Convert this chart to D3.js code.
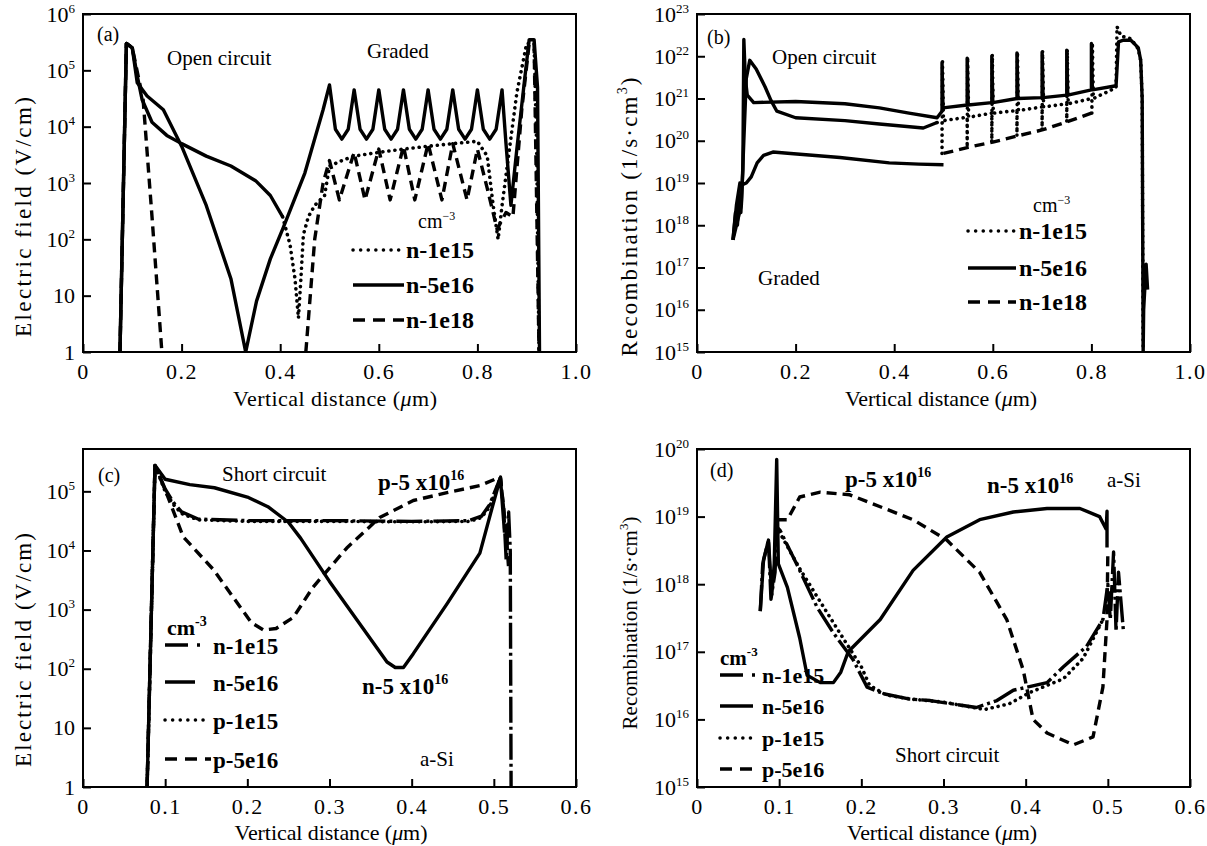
<!DOCTYPE html>
<html>
<head>
<meta charset="utf-8">
<script src="https://cdn.jsdelivr.net/npm/d3@7"></script>
<style>
body { margin: 0; background: #fff; }
svg { display: block; }
text { font-family: "Liberation Serif", "Times New Roman", serif; fill: #000; }
</style>
</head>
<body>
<svg id="chart"></svg>
<script>
// ---- data ----
// (a) electric field, open circuit, graded
var aN1e15EarlyX = [0.075, 0.088, 0.1, 0.11, 0.12, 0.14, 0.17, 0.2, 0.25, 0.3, 0.35, 0.38, 0.405];
var aN1e15EarlyY = [1, 3e5, 2.5e5, 8e4, 3e4, 1.2e4, 7e3, 5e3, 3e3, 2e3, 1.1e3, 600, 250];
var aN1e15X = [0.405, 0.42, 0.43, 0.437, 0.442, 0.447, 0.457, 0.47, 0.49, 0.5, 0.525, 0.55, 0.6, 0.65, 0.7, 0.75, 0.8, 0.82, 0.832, 0.842, 0.85, 0.865, 0.88, 0.9, 0.915, 0.92, 0.925];
var aN1e15Y = [250, 80, 20, 4, 20, 120, 250, 400, 600, 2e3, 2.5e3, 3e3, 3.5e3, 4e3, 4.5e3, 5e3, 5.5e3, 3e3, 400, 100, 400, 4e3, 4e4, 3e5, 3e5, 5e3, 1];
var aN5e16X = [0.075, 0.088, 0.1, 0.11, 0.13, 0.163, 0.2, 0.25, 0.3, 0.33, 0.352, 0.38, 0.406, 0.45, 0.487, 0.5,
  0.512, 0.525, 0.538, 0.55, 0.562, 0.575, 0.588, 0.6, 0.612, 0.625, 0.638, 0.65, 0.662, 0.675, 0.688, 0.7,
  0.712, 0.725, 0.738, 0.75, 0.762, 0.775, 0.788, 0.8, 0.812, 0.825, 0.838, 0.85,
  0.858, 0.868, 0.88, 0.895, 0.905, 0.915, 0.922, 0.926];
var aN5e16Y = [1, 3e5, 2.5e5, 6e4, 3.5e4, 2e4, 4.5e3, 400, 20, 1, 8, 45, 160, 1.5e3, 2e4, 5.5e4,
  9e3, 6e3, 9e3, 4.5e4, 9e3, 6e3, 9e3, 4.5e4, 9e3, 6e3, 9e3, 4.5e4, 9e3, 6e3, 9e3, 4.5e4,
  9e3, 6e3, 9e3, 4.5e4, 9e3, 6e3, 9e3, 4.5e4, 9e3, 6e3, 9e3, 4.5e4,
  5e3, 400, 4e3, 6e4, 3.5e5, 3.5e5, 5e4, 1];
var aN1e18X = [0.075, 0.088, 0.1, 0.122, 0.14, 0.16, null, 0.452, 0.47, 0.487, 0.5, 0.52, 0.55, 0.572, 0.6, 0.623, 0.65, 0.673, 0.7, 0.728, 0.75, 0.779, 0.8, 0.82, 0.84, 0.858, 0.872, 0.89, 0.905, 0.915, 0.925];
var aN1e18Y = [1, 3e5, 2.5e5, 3e4, 250, 1, null, 1, 100, 1e3, 2.5e3, 500, 3.5e3, 500, 4e3, 500, 4.5e3, 500, 5e3, 500, 5e3, 500, 4e3, 800, 150, 300, 250, 2e4, 3e5, 3e5, 1];

// (b) recombination, open circuit, graded
var bN1e15EarlyX = [0.073, 0.08, 0.09, 0.095, 0.1, 0.107, 0.12, 0.138, 0.15, 0.162, 0.2, 0.3, 0.37, 0.459, 0.487];
var bN1e15EarlyY = [4.5e17, 1e18, 3e18, 1e20, 3e21, 8e21, 5e21, 1.9e21, 9e20, 5e20, 3.5e20, 3e20, 2.5e20, 2e20, 2.7e20];
var bN1e15X = [0.487,
  0.497, 0.497, 0.498, 0.5, 0.548, 0.548, 0.549, 0.551, 0.598, 0.598, 0.599, 0.601, 0.649, 0.649, 0.65, 0.652,
  0.7, 0.7, 0.701, 0.703, 0.75, 0.75, 0.751, 0.753, 0.801, 0.801, 0.802, 0.804,
  0.85, 0.852, 0.86, 0.88, 0.895, 0.9, 0.903, 0.905];
var bN1e15Y = [2.7e20,
  2.8e20, 5e19, 7.5e21, 3e20, 3.6e20, 7e19, 9.5e21, 3.6e20, 4.5e20, 9.3e19, 1.1e22, 4.5e20, 5.2e20, 1.3e20, 1.25e22, 5.2e20,
  6.3e20, 1.8e20, 1.35e22, 6.3e20, 7.5e20, 2.8e20, 1.45e22, 7.5e20, 1e21, 4.5e20, 2.1e22, 1e21,
  1.8e21, 5e22, 3e22, 2.6e22, 1.5e22, 8e21, 1e21, 1e15];
var bN5e16X = [0.073, 0.078, 0.082, 0.086, 0.089, 0.093, 0.095, 0.098, 0.102, 0.115, 0.2, 0.3, 0.37, 0.43, 0.487,
  0.497, 0.497, 0.499, 0.548, 0.548, 0.55, 0.598, 0.598, 0.6, 0.649, 0.649, 0.651, 0.7, 0.7, 0.702,
  0.75, 0.75, 0.752, 0.8, 0.8, 0.802,
  0.85, 0.855, 0.865, 0.88, 0.895, 0.9, 0.903, 0.905, 0.906, 0.911, 0.914];
var bN5e16Y = [4.5e17, 2e18, 1e18, 5e18, 2e18, 2e19, 2.5e22, 3e21, 1.2e21, 8e20, 8.5e20, 7.5e20, 6e20, 4.5e20, 3.5e20,
  5e20, 7e21, 6e20, 7e20, 9e21, 7e20, 8e20, 1e22, 8e20, 1e21, 1.2e22, 1e21, 1.05e21, 1.25e22, 1.05e21,
  1.2e21, 1.4e22, 1.2e21, 1.6e21, 2e22, 1.6e21,
  2e21, 2.2e22, 2.4e22, 2.4e22, 1.6e22, 8e21, 1e21, 1e15, 1e16, 1.2e17, 3e16];
var bN1e18EarlyX = [0.073, 0.08, 0.087, 0.091, 0.1, 0.11, 0.122, 0.135, 0.154, 0.19, 0.29, 0.39, 0.45, 0.5];
var bN1e18EarlyY = [4.5e17, 3e18, 1e19, 9e18, 1e19, 1.4e19, 3e19, 4.5e19, 5.4e19, 5e19, 4e19, 3e19, 2.8e19, 2.7e19];
var bN1e18X = [0.5, 0.55, 0.6, 0.65, 0.7, 0.75, 0.8];
var bN1e18Y = [5e19, 7e19, 9.3e19, 1.3e20, 1.8e20, 2.8e20, 4.5e20];

// (c) electric field, short circuit, a-Si
var cN1e15X = [0.078, 0.0876, 0.1, 0.11, 0.12, 0.14, 0.2, 0.3, 0.4, 0.47, 0.485, 0.495, 0.508, 0.512, 0.515, 0.518, 0.52, 0.521];
var cN1e15Y = [1, 2.75e5, 1.1e5, 6.5e4, 4.5e4, 3.4e4, 3.2e4, 3.2e4, 3.1e4, 3.2e4, 3.8e4, 6e4, 1.7e5, 5e4, 7e3, 4.5e4, 1e4, 1];
var cN5e16X = [0.078, 0.0876, 0.1, 0.13, 0.16, 0.2, 0.225, 0.25, 0.265, 0.3, 0.34, 0.37, 0.38, 0.39, 0.402, 0.443, 0.483, 0.499, 0.508, 0.513];
var cN5e16Y = [1, 2.75e5, 1.6e5, 1.3e5, 1.15e5, 8e4, 5.5e4, 3e4, 1.6e4, 3e3, 500, 130, 105, 105, 180, 1.25e3, 9e3, 6e4, 1.7e5, 2e4];
var cP1e15X = [0.078, 0.0876, 0.1, 0.11, 0.12, 0.14, 0.2, 0.3, 0.4, 0.47, 0.485, 0.495, 0.508];
var cP1e15Y = [1, 2.75e5, 1e5, 6e4, 4.2e4, 3.3e4, 3.1e4, 3.1e4, 3.05e4, 3.1e4, 3.6e4, 5.5e4, 1.7e5];
var cP5e16X = [0.078, 0.0876, 0.102, 0.122, 0.159, 0.183, 0.205, 0.22, 0.235, 0.256, 0.28, 0.321, 0.361, 0.402, 0.443, 0.483, 0.508, 0.515, 0.518];
var cP5e16Y = [1, 2.75e5, 9e4, 1.7e4, 4.7e3, 1.6e3, 600, 450, 480, 740, 2.4e3, 1.1e4, 3.6e4, 7e4, 9.5e4, 1.25e5, 1.75e5, 2e4, 5e3];

// (d) recombination, short circuit, a-Si
var dN1e15X = [0.077, 0.08, 0.087, 0.09, 0.095, 0.097, 0.101, 0.125, 0.146, 0.166, 0.19, 0.207, 0.227, 0.259, 0.284, 0.34, 0.365, 0.385, 0.426, 0.446, 0.474, 0.494, 0.5, 0.503, 0.507, 0.51, 0.513, 0.519];
var dN1e15Y = [4e17, 2e18, 4.5e18, 6e17, 1.5e18, 7e18, 6.3e18, 1.6e18, 4.6e17, 1.9e17, 7.6e16, 3e16, 2.4e16, 2e16, 1.9e16, 1.5e16, 1.9e16, 2.7e16, 3.5e16, 6e16, 1.2e17, 3e17, 1e18, 3e17, 3e18, 2e17, 1.5e18, 2e17];
var dN5e16X = [0.077, 0.081, 0.087, 0.091, 0.094, 0.097, 0.099, 0.11, 0.125, 0.134, 0.15, 0.166, 0.175, 0.184, 0.223, 0.263, 0.304, 0.344, 0.385, 0.426, 0.466, 0.49, 0.498, 0.499, 0.499];
var dN5e16Y = [4e17, 2.3e18, 4.5e18, 7e17, 2e18, 7e19, 2e18, 9e17, 1.6e17, 4.5e16, 3.5e16, 3.5e16, 5e16, 1e17, 3e17, 1.6e18, 5e18, 9e18, 1.17e19, 1.32e19, 1.32e19, 1e19, 6.5e18, 1.2e19, 3.5e18];
var dP1e15X = [0.1, 0.125, 0.15, 0.175, 0.2, 0.21, 0.23, 0.26, 0.3, 0.35, 0.38, 0.405, 0.446, 0.47, 0.494];
var dP1e15Y = [6e18, 1.7e18, 5.5e17, 1.8e17, 6e16, 3.2e16, 2.3e16, 2e16, 1.8e16, 1.4e16, 1.7e16, 2.5e16, 4e16, 8e16, 3e17];
var dP5e16X = [0.097, 0.11, 0.125, 0.15, 0.186, 0.223, 0.263, 0.304, 0.344, 0.377, 0.397, 0.409, 0.426, 0.458, 0.482, 0.494, 0.499, 0.5];
var dP5e16Y = [9e18, 9e18, 1.95e19, 2.3e19, 2.1e19, 1.4e19, 9e18, 4.5e18, 1.5e18, 3e17, 5.4e16, 1e16, 6.3e15, 4.2e15, 5.5e15, 3e16, 3e17, 3e18];

// ticks and legend labels
var xTicksTop = [0, 0.2, 0.4, 0.6, 0.8, 1.0];
var xTicksBottom = [0, 0.1, 0.2, 0.3, 0.4, 0.5, 0.6];
var aYTicks = [1, 10, 1e2, 1e3, 1e4, 1e5, 1e6];
var bYTicks = [1e15, 1e16, 1e17, 1e18, 1e19, 1e20, 1e21, 1e22, 1e23];
var cYTicks = [1, 10, 1e2, 1e3, 1e4, 1e5];
var dYTicks = [1e15, 1e16, 1e17, 1e18, 1e19, 1e20];
var topLegend = ["n-1e15", "n-5e16", "n-1e18"];
var bottomLegend = ["n-1e15", "n-5e16", "p-1e15", "p-5e16"];

// ---- drawing ----
var W = 1207, H = 846;
var svg = d3.select("#chart").attr("width", W).attr("height", H);

var dash = { solid: null, dotted: "0.1,6", dashed: "10,6", dashdot: "26,4,3,4" };
var legendDash = { solid: null, dotted: "0.1,7.5", dashed: "12,8", dashdot: "23,9,3,60" };

function zip(xs, ys) {
  return xs.map(function(x, i) { return [x, ys[i]]; });
}

function addText(parent, x, y, parts, opt) {
  var t = parent.append("text").attr("x", x).attr("y", y)
    .attr("font-size", opt.size + "px")
    .attr("font-weight", opt.bold ? "bold" : "normal");
  if (opt.anchor) t.attr("text-anchor", opt.anchor);
  if (opt.len) t.attr("textLength", opt.len).attr("lengthAdjust", "spacing");
  var shift = 0;
  parts.forEach(function(p) {
    var s = t.append("tspan").text(p.t);
    var want = p.sup ? -Math.round(opt.size * 0.42) : 0;
    if (want !== shift) { s.attr("dy", want - shift); shift = want; }
    if (p.sup) s.attr("font-size", Math.round(opt.size * 0.62) + "px");
    if (p.it) s.attr("font-style", "italic");
  });
  return t;
}

var xTitle = [{ t: "Vertical distance (" }, { t: "\u03bc", it: true }, { t: "m)" }];
var fieldTitle = [{ t: "Electric field (V/cm)" }];
var recTitle = [{ t: "Recombination (1/s\u00b7cm" }, { t: "3", sup: true }, { t: ")" }];

var panels = [
  { id: "a", left: 83, top: 14, right: 576, bottom: 352, xMax: 1.0, xTicks: xTicksTop,
    yDomain: [1, 1e6], yTicks: aYTicks,
    yTitle: fieldTitle, yTitleX: 31, yTitleY: 217, yTitleLen: 240, yTitleSize: 23,
    xTitleX: 335, xTitleY: 406, xTitleLen: 204,
    series: [
      { x: aN1e15EarlyX, y: aN1e15EarlyY, style: "solid" },
      { x: aN1e15X, y: aN1e15Y, style: "dotted" },
      { x: aN5e16X, y: aN5e16Y, style: "solid" },
      { x: aN1e18X, y: aN1e18Y, style: "dashed" }
    ],
    notes: [
      { x: 97, y: 41, parts: [{ t: "(a)" }], size: 20 },
      { x: 167, y: 65, parts: [{ t: "Open circuit" }], size: 21 },
      { x: 367, y: 58, parts: [{ t: "Graded" }], size: 21 },
      { x: 418, y: 228, parts: [{ t: "cm" }, { t: "\u22123", sup: true }], size: 20 }
    ],
    legend: { labels: topLegend, styles: ["dotted", "solid", "dashed"], base: [258, 293, 328],
      x1: 353, x2: [404, 404, 404], tx: 406, size: 24, off: 8 } },
  { id: "b", left: 697, top: 14, right: 1190, bottom: 352, xMax: 1.0, xTicks: xTicksTop,
    yDomain: [1e15, 1e23], yTicks: bYTicks,
    yTitle: recTitle, yTitleX: 637, yTitleY: 217, yTitleLen: 279, yTitleSize: 23,
    xTitleX: 941, xTitleY: 406, xTitleLen: 192,
    series: [
      { x: bN1e18EarlyX, y: bN1e18EarlyY, style: "solid" },
      { x: bN1e18X, y: bN1e18Y, style: "dashed" },
      { x: bN1e15EarlyX, y: bN1e15EarlyY, style: "solid" },
      { x: bN1e15X, y: bN1e15Y, style: "dotted" },
      { x: bN5e16X, y: bN5e16Y, style: "solid" }
    ],
    notes: [
      { x: 707, y: 44, parts: [{ t: "(b)" }], size: 20 },
      { x: 772, y: 64, parts: [{ t: "Open circuit" }], size: 21 },
      { x: 758, y: 285, parts: [{ t: "Graded" }], size: 21 },
      { x: 1033, y: 212, parts: [{ t: "cm" }, { t: "\u22123", sup: true }], size: 20 }
    ],
    legend: { labels: topLegend, styles: ["dotted", "solid", "dashed"], base: [239, 276, 310],
      x1: 968, x2: [1016, 1016, 1016], tx: 1019, size: 24, off: 8 } },
  { id: "c", left: 83, top: 449, right: 576, bottom: 787, xMax: 0.6, xTicks: xTicksBottom,
    yDomain: [1, 5.2e5], yTicks: cYTicks,
    yTitle: fieldTitle, yTitleX: 31, yTitleY: 650, yTitleLen: 234, yTitleSize: 23,
    xTitleX: 331, xTitleY: 840, xTitleLen: 193,
    series: [
      { x: cP1e15X, y: cP1e15Y, style: "dotted" },
      { x: cN1e15X, y: cN1e15Y, style: "dashdot" },
      { x: cP5e16X, y: cP5e16Y, style: "dashed" },
      { x: cN5e16X, y: cN5e16Y, style: "solid" }
    ],
    notes: [
      { x: 98, y: 482, parts: [{ t: "(c)" }], size: 20 },
      { x: 222, y: 481, parts: [{ t: "Short circuit" }], size: 21 },
      { x: 378, y: 490, parts: [{ t: "p-5 x10" }, { t: "16", sup: true }], size: 23, bold: true },
      { x: 362, y: 694, parts: [{ t: "n-5 x10" }, { t: "16", sup: true }], size: 23, bold: true },
      { x: 420, y: 766, parts: [{ t: "a-Si" }], size: 21 },
      { x: 167, y: 635, parts: [{ t: "cm" }, { t: "-3", sup: true }], size: 22, bold: true }
    ],
    legend: { labels: bottomLegend, styles: ["dashdot", "solid", "dotted", "dashed"], base: [654, 691, 729, 768],
      x1: 165, x2: [203, 195, 210, 211], tx: 213, size: 23, off: 9 } },
  { id: "d", left: 697, top: 449, right: 1190, bottom: 787, xMax: 0.6, xTicks: xTicksBottom,
    yDomain: [1e15, 1e20], yTicks: dYTicks,
    yTitle: recTitle, yTitleX: 637, yTitleY: 623, yTitleLen: 213, yTitleSize: 21,
    xTitleX: 942, xTitleY: 840, xTitleLen: 190,
    series: [
      { x: dP1e15X, y: dP1e15Y, style: "dotted" },
      { x: dN1e15X, y: dN1e15Y, style: "dashdot" },
      { x: dP5e16X, y: dP5e16Y, style: "dashed" },
      { x: dN5e16X, y: dN5e16Y, style: "solid" }
    ],
    notes: [
      { x: 710, y: 477, parts: [{ t: "(d)" }], size: 20 },
      { x: 845, y: 487, parts: [{ t: "p-5 x10" }, { t: "16", sup: true }], size: 23, bold: true },
      { x: 987, y: 493, parts: [{ t: "n-5 x10" }, { t: "16", sup: true }], size: 23, bold: true },
      { x: 1107, y: 487, parts: [{ t: "a-Si" }], size: 21 },
      { x: 895, y: 762, parts: [{ t: "Short circuit" }], size: 21 },
      { x: 720, y: 665, parts: [{ t: "cm" }, { t: "-3", sup: true }], size: 21, bold: true }
    ],
    legend: { labels: bottomLegend, styles: ["dashdot", "solid", "dotted", "dashed"], base: [683, 714, 746, 777],
      x1: 720, x2: [757, 753, 758, 758], tx: 762, size: 22, off: 8 } }
];

panels.forEach(function(p) {
  var x = d3.scaleLinear().domain([0, p.xMax]).range([p.left, p.right]);
  var y = d3.scaleLog().domain(p.yDomain).range([p.bottom, p.top]);
  var g = svg.append("g").attr("class", "panel-" + p.id);

  // x axis, ticks pointing inward
  var xa = g.append("g")
    .attr("transform", "translate(0," + p.bottom + ")")
    .call(d3.axisBottom(x).tickValues(p.xTicks).tickSize(-8).tickPadding(11)
      .tickFormat(function(d) { return d === 0 ? "0" : d3.format(".1f")(d); }));
  xa.select(".domain").remove();
  xa.selectAll(".tick line").attr("stroke", "#000").attr("stroke-width", 2);
  xa.selectAll(".tick text").attr("font-size", "22px").attr("letter-spacing", "1.5px")
    .attr("font-family", "Liberation Serif, Times New Roman, serif");

  // y axis, log decades
  var ya = g.append("g")
    .attr("transform", "translate(" + p.left + ",0)")
    .call(d3.axisLeft(y).tickValues(p.yTicks).tickSize(-8).tickPadding(8));
  ya.select(".domain").remove();
  ya.selectAll(".tick line").attr("stroke", "#000").attr("stroke-width", 2);
  ya.selectAll(".tick text").attr("font-size", "22px")
    .attr("font-family", "Liberation Serif, Times New Roman, serif")
    .each(function(d) {
      var e = Math.round(Math.log10(d));
      var t = d3.select(this).text(null);
      if (e === 0) t.text("1");
      else if (e === 1) t.text("10");
      else {
        t.append("tspan").text("10");
        t.append("tspan").attr("dy", -9).attr("font-size", "13px").text(e);
      }
    });

  // clip for the curves
  svg.append("clipPath").attr("id", "clip-" + p.id)
    .append("rect").attr("x", p.left).attr("y", p.top)
    .attr("width", p.right - p.left).attr("height", p.bottom - p.top);

  var line = d3.line()
    .defined(function(d) { return d[0] != null && d[1] != null; })
    .x(function(d) { return x(d[0]); })
    .y(function(d) { return y(d[1]); });

  var curves = g.append("g").attr("clip-path", "url(#clip-" + p.id + ")");
  p.series.forEach(function(s) {
    curves.append("path")
      .datum(zip(s.x, s.y))
      .attr("d", line)
      .attr("fill", "none")
      .attr("stroke", "#000")
      .attr("stroke-width", s.style === "dotted" ? 3.6 : 3.4)
      .attr("stroke-linejoin", "round")
      .attr("stroke-linecap", s.style === "dotted" ? "round" : "butt")
      .attr("stroke-dasharray", dash[s.style]);
  });

  // frame
  g.append("rect")
    .attr("x", p.left).attr("y", p.top)
    .attr("width", p.right - p.left).attr("height", p.bottom - p.top)
    .attr("fill", "none").attr("stroke", "#000").attr("stroke-width", 2);

  // axis titles
  addText(g, p.xTitleX, p.xTitleY, xTitle, { size: 22, anchor: "middle", len: p.xTitleLen });
  var yt = g.append("g").attr("transform", "translate(" + p.yTitleX + "," + p.yTitleY + ") rotate(-90)");
  addText(yt, 0, 0, p.yTitle, { size: p.yTitleSize, anchor: "middle", len: p.yTitleLen });

  // annotations
  p.notes.forEach(function(n) {
    addText(g, n.x, n.y, n.parts, { size: n.size, bold: n.bold });
  });

  // legend
  var L = p.legend;
  L.labels.forEach(function(lab, i) {
    var st = L.styles[i];
    var ly = L.base[i] - L.off;
    g.append("line")
      .attr("x1", L.x1).attr("x2", L.x2[i]).attr("y1", ly).attr("y2", ly)
      .attr("stroke", "#000").attr("stroke-width", 3.5)
      .attr("stroke-linecap", st === "dotted" ? "round" : "butt")
      .attr("stroke-dasharray", legendDash[st]);
    addText(g, L.tx, L.base[i], [{ t: lab }], { size: L.size, bold: true });
  });
});
</script>
</body>
</html>
